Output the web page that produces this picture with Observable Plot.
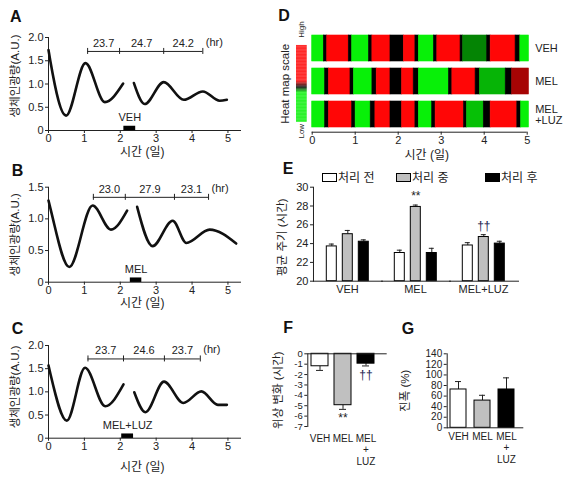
<!DOCTYPE html>
<html><head><meta charset="utf-8">
<script src="https://cdn.jsdelivr.net/npm/d3@7"></script>
<script src="https://cdn.jsdelivr.net/npm/@observablehq/plot@0.6"></script>
<style>
html,body{margin:0;padding:0;background:#fff;}
#fig{position:relative;width:567px;height:478px;overflow:hidden;background:#fff;font-family:"Liberation Sans",Arial,"Noto Sans CJK KR",sans-serif;color:#222;}
.lt{position:absolute;font-weight:bold;font-size:16px;line-height:16px;color:#111;}
.lg{position:absolute;font-size:12px;line-height:12px;white-space:nowrap;color:#222;}
.lg i{display:inline-block;width:13px;height:7px;border:1px solid #000;vertical-align:0px;margin-right:1px;}
</style></head><body><div id="fig"></div>
<script>
// ---------------- data ----------------
const dayTicks = [0, 1, 2, 3, 4, 5];
// Panel A (VEH) luminescence, two recording segments [day, A.U.]
const lumA1 = [[0,1.73],[0.05,1.5],[0.49,0.32],[1.03,1.45],[1.57,0.61],[2.08,1.01]];
const lumA2 = [[2.38,1.02],[2.68,0.57],[3.21,1.04],[3.77,0.66],[4.30,0.84],[4.77,0.64],[4.97,0.66]];
const bracketA = [1.09, 1.98, 3.21, 4.30];
const periodsA = [23.7, 24.7, 24.2];
// Panel B (MEL)
const lumB1 = [[0,1.29],[0.06,1.15],[0.58,0.24],[1.23,1.21],[1.74,0.83],[2.19,1.13]];
const lumB2 = [[2.47,1.19],[2.90,0.57],[3.46,0.97],[3.84,0.62],[4.49,0.83],[5.23,0.61]];
const bracketB = [1.25, 2.14, 3.51, 4.46];
const periodsB = [23.0, 27.9, 23.1];
// Panel C (MEL+LUZ)
const lumC1 = [[0,1.57],[0.05,1.40],[0.51,0.38],[1.02,1.52],[1.58,0.69],[2.09,1.16]];
const lumC2 = [[2.39,0.99],[2.70,0.56],[3.22,1.22],[3.76,0.76],[4.26,1.01],[4.72,0.72],[4.97,0.72]];
const bracketC = [1.10, 2.09, 3.23, 4.23];
const periodsC = [23.7, 24.6, 23.7];
const treatA = [2.10, 2.43], treatB = [2.28, 2.60], treatC = [2.04, 2.37];

// Panel D heat map segments [startDay, endDay, level (-1 green .. 0 black .. 1 red)]
const hmRows = ["VEH", "MEL", "MEL+LUZ"];
const hmVEH = [[0,0.27,-1],[0.27,0.35,0],[0.35,0.85,1],[0.85,0.93,0],[0.93,1.32,-1],[1.32,1.40,0],[1.40,1.82,1],[1.82,2.13,0],[2.13,2.40,1],[2.40,2.48,0],[2.48,2.83,-1],[2.83,2.91,0],[2.91,3.45,1],[3.45,3.51,0],[3.51,4.07,-0.55],[4.07,4.15,0],[4.15,4.73,1],[4.73,4.84,0],[4.84,5.04,-1]];
const hmMEL = [[0,0.30,-1],[0.30,0.39,0],[0.39,0.89,1],[0.89,0.97,0],[0.97,1.40,-1],[1.40,1.50,0],[1.50,1.82,1],[1.82,2.09,0],[2.09,2.36,1],[2.36,2.48,0],[2.48,3.18,-1],[3.18,3.26,0],[3.26,3.80,1],[3.80,3.90,0],[3.90,4.50,-0.75],[4.50,4.65,0],[4.65,5.04,0.65]];
const hmLUZ = [[0,0.30,-1],[0.30,0.39,0],[0.39,0.93,1],[0.93,1.01,0],[1.01,1.36,-1],[1.36,1.47,0],[1.47,1.82,1],[1.82,2.09,0],[2.09,2.40,1],[2.40,2.48,0],[2.48,2.79,-1],[2.79,2.87,0],[2.87,3.53,1],[3.53,3.60,0],[3.60,3.99,-0.8],[3.99,4.15,0],[4.15,4.77,1],[4.77,4.86,0],[4.86,5.04,-1]];

// Panel E mean period (h)
const groups = ["VEH", "MEL", "MEL+LUZ"];
const phases = ["처리 전", "처리 중", "처리 후"];
const periodBefore = [23.7, 23.0, 23.8];
const periodDuring = [25.0, 27.9, 24.7];
const periodAfter  = [24.2, 23.0, 24.0];
const periodBeforeErr = [0.25, 0.30, 0.30];
const periodDuringErr = [0.40, 0.20, 0.25];
const periodAfterErr  = [0.20, 0.50, 0.25];
const sigE = [{group:"MEL", phase:"처리 중", mark:"**"}, {group:"MEL+LUZ", phase:"처리 중", mark:"††"}];
// Panel F phase shift (h)
const phaseShift = [-1.2, -4.95, -0.95];
const phaseShiftErr = [0.4, 0.4, 0.22];
const sigF = [{group:"MEL", mark:"**"}, {group:"MEL+LUZ", mark:"††"}];
// Panel G amplitude (%)
const amplitude = [72.5, 51.5, 72.5];
const amplitudeErr = [15, 10, 22];

// ---------------- drawing ----------------
const FONT = '"Liberation Sans", Arial, "Noto Sans CJK KR", sans-serif';
const RED = "#ff0606", GREEN = "#08f008", GRAY = "#c0c0c0", DAGGER = "#1c2450";
const fig = document.getElementById("fig");
function put(node, left, top) { node.style.position = "absolute"; node.style.left = left + "px"; node.style.top = top + "px"; fig.appendChild(node); return node; }
const baseStyle = {background: "transparent", fontFamily: FONT, fontSize: "11px", color: "#222", overflow: "visible"};
const fmt1 = d => d === 0 ? "0" : d.toFixed(1);
const groupColor = {domain: groups, range: ["#fff", GRAY, "#000"]};
const stackLabel = d => d === "MEL+LUZ" ? "MEL\n+\nLUZ" : d;
const ctr = {textAnchor: "middle", lineAnchor: "middle"};

function lumPanel(o) {
  const pts = [...o.seg1.map(([x, y]) => ({x, y, s: "a"})), ...o.seg2.map(([x, y]) => ({x, y, s: "b"}))];
  const b = o.bracket;
  const mids = o.periods.map((p, i) => ({x: (b[i] + b[i + 1]) / 2, t: p.toFixed(1)}));
  const plot = Plot.plot({
    width: 270, height: o.height, marginLeft: 48, marginRight: 30, marginTop: o.mt, marginBottom: o.mb,
    style: baseStyle,
    x: {domain: [0, 5.35], ticks: dayTicks, tickFormat: d => String(d), tickSize: 3, tickPadding: 1, line: true, label: null},
    y: {domain: [0, o.yMax], ticks: o.yTicks, tickFormat: fmt1, tickSize: 3, tickPadding: 2, line: true, label: null},
    marks: [
      Plot.line(pts, {x: "x", y: "y", z: "s", curve: "monotone-x", stroke: "#111", strokeWidth: 2.6}),
      Plot.ruleY([o.by], {x1: b[0], x2: b[b.length - 1], stroke: "#222"}),
      Plot.ruleX(b, {y1: o.by, y2: o.by, insetTop: -3, insetBottom: -3, stroke: "#222"}),
      Plot.text(mids, {x: "x", y: o.by, text: "t", dy: -8, fontSize: 11}),
      Plot.text(["(hr)"], {x: b[b.length - 1], y: o.by, text: d => d, dx: 3, dy: -9, textAnchor: "start", fontSize: 11}),
      Plot.ruleY([0], {x1: o.treat[0], x2: o.treat[1], strokeWidth: 4.5, dy: -2.5, stroke: "#000"}),
      Plot.text([o.treatLabel], {x: (o.treat[0] + o.treat[1]) / 2, y: 0, text: d => d, dy: -13, fontSize: 11}),
      Plot.text(["생체인광량(A.U.)"], {...ctr, text: d => d, frameAnchor: "left", rotate: -90, dx: -33, dy: o.ldy, fontSize: 11.5}),
      Plot.text(["시간 (일)"], {...ctr, text: d => d, x: 2.5, frameAnchor: "bottom", dy: o.tdy, dx: 4, fontSize: 12})
    ]
  });
  put(plot, 0, o.top);
}

lumPanel({seg1: lumA1, seg2: lumA2, bracket: bracketA, periods: periodsA, by: 1.70, treat: treatA, treatLabel: "VEH",
  yMax: 2, yTicks: [0, 0.5, 1, 1.5, 2], top: 0, height: 160, mt: 37, mb: 30, ldy: -8, tdy: 22});
lumPanel({seg1: lumB1, seg2: lumB2, bracket: bracketB, periods: periodsB, by: 1.34, treat: treatB, treatLabel: "MEL",
  yMax: 1.5, yTicks: [0, 0.5, 1, 1.5], top: 155, height: 155, mt: 31.7, mb: 28.3, ldy: 0, tdy: 21});
lumPanel({seg1: lumC1, seg2: lumC2, bracket: bracketC, periods: periodsC, by: 1.71, treat: treatC, treatLabel: "MEL+LUZ",
  yMax: 2, yTicks: [0, 0.5, 1, 1.5, 2], top: 305, height: 173, mt: 40, mb: 40.3, ldy: -5, tdy: 29});

// ---- Panel D heat map ----
const hmSegs = [hmVEH, hmMEL, hmLUZ];
const hmData = hmRows.flatMap((r, i) => hmSegs[i].map(([x1, x2, v]) => ({row: r, x1, x2, v})));
put(Plot.plot({
  width: 287, height: 135, marginLeft: 31.7, marginRight: 40.3, marginTop: 35, marginBottom: 6.7,
  style: baseStyle,
  x: {domain: [0, 5], axis: null},
  y: {domain: hmRows, paddingInner: 0.2, paddingOuter: 0, axis: "right", tickSize: 0, tickPadding: 8,
      tickFormat: d => d === "MEL+LUZ" ? "MEL\n+LUZ" : d, label: null},
  color: {type: "linear", domain: [-1, 0, 1], range: [GREEN, "#000", RED]},
  marks: [
    Plot.barX(hmData, {x1: "x1", x2: "x2", y: "row", fill: "v", stroke: "v", strokeWidth: 0.6})
  ]
}), 280, 0);
// heat map time axis
put(Plot.plot({
  width: 287, height: 37, marginLeft: 31.7, marginRight: 40.3, marginTop: 0, marginBottom: 33.3,
  style: baseStyle,
  x: {domain: [0, 5], ticks: dayTicks, tickFormat: d => String(d), tickSize: 3, tickPadding: 1, label: null},
  y: {domain: [0, 1], axis: null},
  marks: [
    Plot.ruleY([0]),
    Plot.text(["시간 (일)"], {...ctr, text: d => d, x: 2.5, frameAnchor: "bottom", dy: 23, dx: 7, fontSize: 12})
  ]
}), 280, 128);
// heat map colour scale
const ramp = d3.range(-1, 1, 0.02);
put(Plot.plot({
  width: 32, height: 145, marginLeft: 16, marginRight: 5.3, marginTop: 45, marginBottom: 23.3,
  style: baseStyle,
  x: {axis: null}, y: {domain: [-1, 1], axis: null},
  color: {type: "linear", domain: [-1, -0.24, -0.1, 0.06, 1], range: [GREEN, GREEN, "#000", RED, RED]},
  marks: [
    Plot.rect(ramp, {y1: d => d, y2: d => d + 0.021, fill: d => d}),
    Plot.text(["Heat map scale"], {...ctr, text: d => d, frameAnchor: "left", rotate: -90, dx: -11, fontSize: 11.5}),
    Plot.text(["High"], {...ctr, text: d => d, frameAnchor: "top", rotate: -90, dy: -16, fontSize: 8}),
    Plot.text(["Low"], {...ctr, text: d => d, frameAnchor: "bottom", rotate: -90, dy: 9, fontSize: 8})
  ]
}), 280, 0);

// ---- Panel E mean period ----
const periodVals = [periodBefore, periodDuring, periodAfter];
const periodErrs = [periodBeforeErr, periodDuringErr, periodAfterErr];
const eRows = groups.flatMap((g, i) => phases.map((p, j) => ({group: g, phase: p, value: periodVals[j][i], err: periodErrs[j][i]})));
const eSigRows = sigE.map(s => { const r = eRows.find(e => e.group === s.group && e.phase === s.phase); return {...s, top: r.value + r.err}; });
put(Plot.plot({
  width: 297, height: 140, marginLeft: 42.7, marginRight: 49.7, marginTop: 26.7, marginBottom: 19.3,
  style: baseStyle,
  fx: {domain: groups, paddingInner: 0, paddingOuter: 0, label: null, tickSize: 0, tickPadding: 4},
  x: {domain: phases, paddingInner: 0.37, paddingOuter: 0.7, axis: null},
  y: {domain: [20, 30], ticks: [20, 22, 24, 26, 28, 30], tickSize: 3, tickPadding: 2, line: true, label: null},
  color: {domain: phases, range: ["#fff", GRAY, "#000"]},
  marks: [
    Plot.ruleX(eRows, {fx: "group", x: "phase", y1: "value", y2: d => d.value + d.err}),
    Plot.tickY(eRows, {fx: "group", x: "phase", y: d => d.value + d.err, insetLeft: 2.5, insetRight: 2.5}),
    Plot.barY(eRows, {fx: "group", x: "phase", y1: 20, y2: "value", fill: "phase", stroke: "#000"}),
    Plot.ruleY([20], {insetRight: -2}),
    Plot.text(eSigRows, {fx: "group", x: "phase", y: "top", text: "mark", dy: -9, fontSize: 12,
      fill: d => d.mark === "**" ? "#222" : DAGGER}),
    Plot.text(["평균 주기 (시간)"], {...ctr, fx: () => "VEH", text: d => d, frameAnchor: "left", rotate: -90, dx: -31, dy: 3, fontSize: 11.5})
  ]
}), 270, 160);
// legend E
phases.forEach((p, j) => {
  const d = document.createElement("div");
  d.className = "lg";
  d.innerHTML = `<i style="background:${["#fff", GRAY, "#000"][j]}"></i>${p}`;
  put(d, [322, 396, 485][j], 172);
});

// ---- Panel F phase shift ----
const fRows = groups.map((g, i) => ({group: g, value: phaseShift[i], err: phaseShiftErr[i]}));
const fSigRows = sigF.map(s => { const r = fRows.find(e => e.group === s.group); return {...s, end: r.value - r.err}; });
put(Plot.plot({
  width: 130, height: 158, marginLeft: 37.3, marginRight: 13.3, marginTop: 33.3, marginBottom: 52,
  style: {...baseStyle, fontSize: "9.5px"},
  x: {domain: groups, paddingInner: 0.25, paddingOuter: 0.28, align: 0.25, axis: null},
  y: {domain: [-7, 0], ticks: d3.range(-7, 1), tickFormat: d => String(d), tickSize: 3, tickPadding: 2, line: true, label: null},
  color: groupColor,
  marks: [
    Plot.ruleX(fRows, {x: "group", y1: "value", y2: d => d.value - d.err}),
    Plot.tickY(fRows, {x: "group", y: d => d.value - d.err, insetLeft: 5, insetRight: 5}),
    Plot.barY(fRows, {x: "group", y: "value", fill: "group", stroke: "#000"}),
    Plot.ruleY([0]),
    Plot.axisX({tickSize: 0, tickPadding: 7, tickFormat: stackLabel, lineHeight: 1.15, fontSize: 10, label: null}),
    Plot.text(fSigRows, {x: "group", y: "end", text: "mark", dy: 9, fontSize: 12, fill: d => d.mark === "**" ? "#222" : DAGGER}),
    Plot.text(["위상 변화 (시간)"], {...ctr, text: d => d, frameAnchor: "left", rotate: -90, dx: -29, fontSize: 11.5})
  ]
}), 270, 320);

// ---- Panel G amplitude ----
const gRows = groups.map((g, i) => ({group: g, value: amplitude[i], err: amplitudeErr[i]}));
put(Plot.plot({
  width: 167, height: 158, marginLeft: 46.7, marginRight: 43.7, marginTop: 33.3, marginBottom: 50.7,
  style: {...baseStyle, fontSize: "10px"},
  x: {domain: groups, paddingInner: 0.32, paddingOuter: 0.255, align: 0.27, axis: null},
  y: {domain: [0, 140], ticks: d3.range(0, 141, 20), tickSize: 3, tickPadding: 2, line: true, label: null},
  color: groupColor,
  marks: [
    Plot.ruleX(gRows, {x: "group", y1: "value", y2: d => d.value + d.err}),
    Plot.tickY(gRows, {x: "group", y: d => d.value + d.err, insetLeft: 5, insetRight: 5}),
    Plot.barY(gRows, {x: "group", y: "value", fill: "group", stroke: "#000"}),
    Plot.ruleY([0]),
    Plot.axisX({tickSize: 0, tickPadding: 4, tickFormat: stackLabel, lineHeight: 1.15, fontSize: 10, label: null}),
    Plot.text(["진폭 (%)"], {...ctr, text: d => d, frameAnchor: "left", rotate: -90, dx: -41.7, fontSize: 11.5})
  ]
}), 400, 320);

// ---- panel letters ----
[["A", 10, 8.7], ["B", 11.7, 163], ["C", 11.7, 321.3], ["D", 278.3, 8], ["E", 282.7, 161.3], ["F", 283.3, 319.7], ["G", 401.7, 320.7]]
  .forEach(([t, x, y]) => { const d = document.createElement("div"); d.className = "lt"; d.textContent = t; put(d, x, y); });
</script></body></html>
